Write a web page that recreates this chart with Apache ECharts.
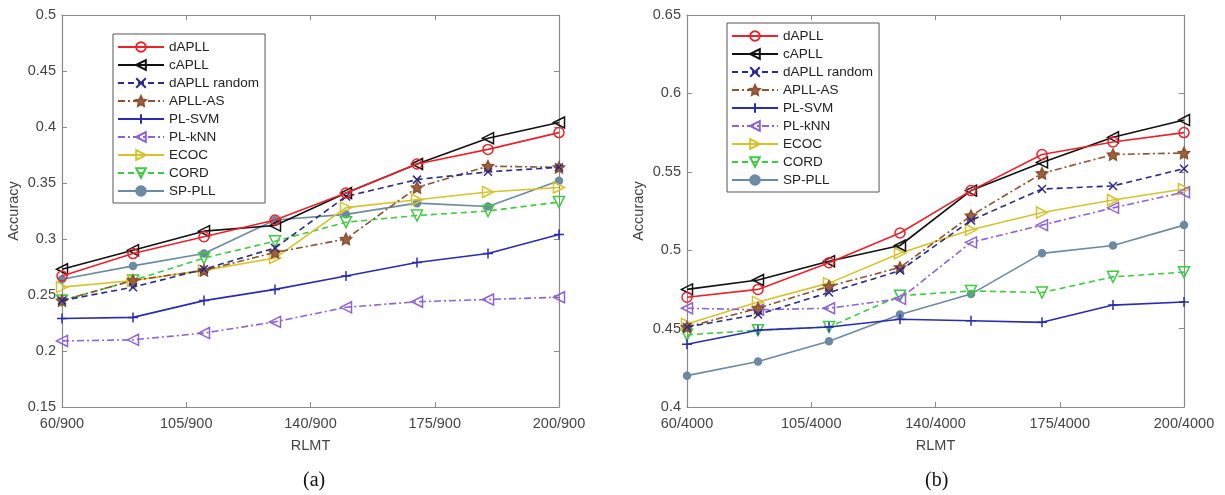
<!DOCTYPE html>
<html>
<head>
<meta charset="utf-8">
<script src="https://cdn.jsdelivr.net/npm/echarts@6/dist/echarts.min.js"></script>
<style>html,body{margin:0;padding:0;background:#fff;}#c{width:1225px;height:495px;}</style>
</head>
<body>
<div id="c"></div>
<script>
// ---- data ----
const seriesNames = ['dAPLL','cAPLL','dAPLL random','APLL-AS','PL-SVM','PL-kNN','ECOC','CORD','SP-PLL'];
const tickLabelsA = ['60/900','105/900','140/900','175/900','200/900'];
const tickLabelsB = ['60/4000','105/4000','140/4000','175/4000','200/4000'];
// (a) RLMT x/900
const dAPLL_a      = [0.267, 0.287, 0.302, 0.317, 0.341, 0.367, 0.380, 0.395];
const cAPLL_a      = [0.273, 0.290, 0.307, 0.312, 0.341, 0.367, 0.390, 0.404];
const dAPLLrand_a  = [0.245, 0.257, 0.273, 0.292, 0.338, 0.353, 0.360, 0.364];
const APLLAS_a     = [0.245, 0.263, 0.272, 0.288, 0.300, 0.346, 0.365, 0.364];
const PLSVM_a      = [0.229, 0.230, 0.245, 0.255, 0.267, 0.279, 0.287, 0.304];
const PLkNN_a      = [0.209, 0.210, 0.216, 0.226, 0.239, 0.244, 0.246, 0.248];
const ECOC_a       = [0.257, 0.263, 0.272, 0.283, 0.328, 0.335, 0.342, 0.346];
const CORD_a       = [0.245, 0.263, 0.283, 0.298, 0.315, 0.321, 0.325, 0.333];
const SPPLL_a      = [0.264, 0.276, 0.287, 0.317, 0.322, 0.332, 0.329, 0.352];
// (b) RLMT x/4000
const dAPLL_b      = [0.470, 0.475, 0.492, 0.511, 0.538, 0.561, 0.569, 0.575];
const cAPLL_b      = [0.475, 0.481, 0.493, 0.503, 0.538, 0.556, 0.572, 0.583];
const dAPLLrand_b  = [0.451, 0.459, 0.473, 0.487, 0.519, 0.539, 0.541, 0.552];
const APLLAS_b     = [0.451, 0.463, 0.477, 0.489, 0.522, 0.549, 0.561, 0.562];
const PLSVM_b      = [0.440, 0.449, 0.451, 0.456, 0.455, 0.454, 0.465, 0.467];
const PLkNN_b      = [0.463, 0.462, 0.463, 0.469, 0.505, 0.516, 0.527, 0.537];
const ECOC_b       = [0.453, 0.467, 0.479, 0.498, 0.513, 0.524, 0.532, 0.539];
const CORD_b       = [0.446, 0.449, 0.451, 0.471, 0.474, 0.473, 0.483, 0.486];
const SPPLL_b      = [0.420, 0.429, 0.442, 0.459, 0.472, 0.498, 0.503, 0.516];

const dataA = [dAPLL_a, cAPLL_a, dAPLLrand_a, APLLAS_a, PLSVM_a, PLkNN_a, ECOC_a, CORD_a, SPPLL_a];
const dataB = [dAPLL_b, cAPLL_b, dAPLLrand_b, APLLAS_b, PLSVM_b, PLkNN_b, ECOC_b, CORD_b, SPPLL_b];

// ---- styles ----
const STAR = 'path://M0,-10L2.9,-4L9.5,-3.1L4.8,1.5L5.9,8.1L0,5L-5.9,8.1L-4.8,1.5L-9.5,-3.1L-2.9,-4Z';
const PLUS = 'path://M0,-10L0,10M-10,0L10,0';
const CROSS = 'path://M-10,-10L10,10M-10,10L10,-10';
const DASH = [6, 4];
const DASHDOT = [7, 3, 2, 3];
const HOLLOW = 'rgba(255,255,255,0)';
const styles = [
  {color:'#e8232a', type:'solid',  symbol:'circle',   rot:0,   size:10, fill:HOLLOW},
  {color:'#111111', type:'solid',  symbol:'triangle', rot:90,  size:11, fill:HOLLOW},
  {color:'#2b2a85', type:DASH,     symbol:CROSS,      rot:0,   size:8,  fill:HOLLOW},
  {color:'#8c5233', type:DASHDOT,  symbol:STAR,       rot:0,   size:11, fill:'#a0603a'},
  {color:'#2a2cae', type:'solid',  symbol:PLUS,       rot:0,   size:10, fill:HOLLOW},
  {color:'#8e62d4', type:DASHDOT,  symbol:'triangle', rot:90,  size:11, fill:HOLLOW},
  {color:'#d6c22c', type:'solid',  symbol:'triangle', rot:-90, size:11, fill:HOLLOW},
  {color:'#3fcb3f', type:DASH,     symbol:'triangle', rot:180, size:11, fill:HOLLOW},
  {color:'#6c8aa2', type:'solid',  symbol:'circle',   rot:0,   size:7,  fill:'#6c8aa2'}
];

const axisGrey = '#8a8a8a';
const labelColor = '#444';
const FONT = 'Liberation Sans';

function mkSeries(data, xi, yi) {
  return seriesNames.map((name, k) => {
    const s = styles[k];
    return {
      name: name,
      type: 'line',
      xAxisIndex: xi, yAxisIndex: yi,
      data: data[k].map((v, i) => [i, v]),
      symbol: s.symbol,
      symbolRotate: s.rot,
      symbolSize: s.size,
      lineStyle: {color: s.color, width: 1.6, type: s.type},
      itemStyle: {color: s.fill, borderColor: s.color, borderWidth: 1.5},
      emphasis: {disabled: true},
      animation: false,
      z: 10 - k
    };
  });
}

function xAx(grid, labels, top) {
  return {
    type: 'value', gridIndex: grid, position: top ? 'top' : 'bottom',
    min: 0, max: 7, interval: 1.75,
    axisLine: {show: true, onZero: false, lineStyle: {color: axisGrey, width: 1.2}},
    axisTick: {show: true, inside: true, length: 5, lineStyle: {color: axisGrey}},
    splitLine: {show: false},
    axisLabel: top ? {show: false} : {
      show: true, color: labelColor, fontSize: 14.5, fontFamily: FONT, margin: 9,
      formatter: v => labels[Math.round(v / 1.75)]
    },
    name: top ? '' : 'RLMT', nameLocation: 'middle', nameGap: 31,
    nameTextStyle: {color: labelColor, fontSize: 14.5, fontFamily: FONT}
  };
}
function yAx(grid, min, max, right) {
  return {
    type: 'value', gridIndex: grid, position: right ? 'right' : 'left',
    min: min, max: max, interval: 0.05,
    axisLine: {show: true, onZero: false, lineStyle: {color: axisGrey, width: 1.2}},
    axisTick: {show: true, inside: true, length: 5, lineStyle: {color: axisGrey}},
    splitLine: {show: false},
    axisLabel: right ? {show: false} : {
      show: true, color: labelColor, fontSize: 14.5, fontFamily: FONT, margin: 6,
      formatter: v => String(Math.round(v * 100) / 100)
    },
    name: right ? '' : 'Accuracy', nameLocation: 'middle', nameGap: 41, nameRotate: 90,
    nameTextStyle: {color: labelColor, fontSize: 14.5, fontFamily: FONT}
  };
}
function legend(left, top) {
  return {
    show: true, orient: 'vertical', left: left, top: top,
    data: seriesNames,
    itemWidth: 46, itemHeight: 12, itemGap: 4,
    padding: [6, 6, 5, 4],
    borderColor: '#555', borderWidth: 1, backgroundColor: '#fff',
    textStyle: {color: '#222', fontSize: 13.5, fontFamily: FONT},
    selectedMode: false
  };
}

const option = {
  backgroundColor: '#fff',
  animation: false,
  grid: [
    {left: 62, top: 15, width: 497, height: 392, containLabel: false},
    {left: 687, top: 15, width: 497, height: 392, containLabel: false}
  ],
  xAxis: [xAx(0, tickLabelsA, false), xAx(0, tickLabelsA, true), xAx(1, tickLabelsB, false), xAx(1, tickLabelsB, true)],
  yAxis: [yAx(0, 0.15, 0.5, false), yAx(0, 0.15, 0.5, true), yAx(1, 0.4, 0.65, false), yAx(1, 0.4, 0.65, true)],
  legend: [legend(113, 34), legend(727, 23)],
  title: [
    {text: '(a)', left: 298, top: 466, textStyle: {fontFamily: 'Liberation Serif', fontSize: 20, fontWeight: 'normal', color: '#111'}},
    {text: '(b)', left: 920, top: 466, textStyle: {fontFamily: 'Liberation Serif', fontSize: 20, fontWeight: 'normal', color: '#111'}}
  ],
  series: mkSeries(dataA, 0, 0).concat(mkSeries(dataB, 2, 2))
};
const chart = echarts.init(document.getElementById('c'), null, {renderer: 'canvas'});
chart.setOption(option);
</script>
</body>
</html>
